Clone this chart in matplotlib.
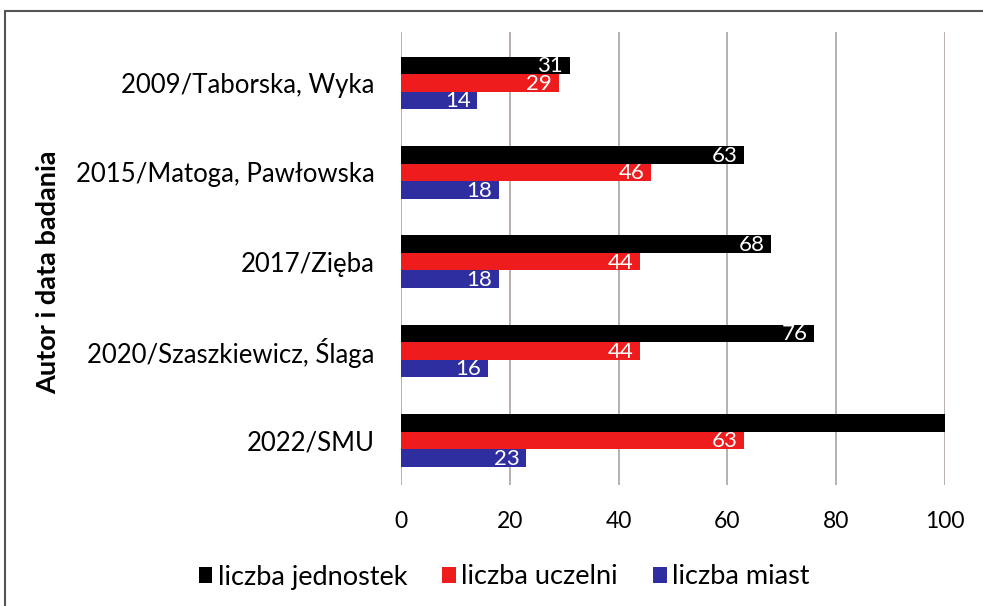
import matplotlib
matplotlib.use("Agg")
import matplotlib.pyplot as plt
from matplotlib.patches import Rectangle
import numpy as np

categories = ["2009/Taborska, Wyka", "2015/Matoga, Pawłowska", "2017/Zięba",
              "2020/Szaszkiewicz, Ślaga", "2022/SMU"]
jednostek = [31, 63, 68, 76, 100]
uczelni = [29, 46, 44, 44, 63]
miast = [14, 18, 18, 16, 23]
series_names = ["liczba jednostek", "liczba uczelni", "liczba miast"]
xticks = [0, 20, 40, 60, 80, 100]

plt.rcParams['font.family'] = ['Lato', 'DejaVu Sans']

W, H = 983, 606
fig = plt.figure(figsize=(W/100, H/100), dpi=100)
left, right, top, bottom = 401, 945, 32, 485
ax = fig.add_axes([left/W, 1-bottom/H, (right-left)/W, (bottom-top)/H])

colors = ["#000000", "#ee1c1c", "#2e2ea0"]
bh = 0.196
y = np.arange(len(categories))
data = [jednostek, uczelni, miast]
for i, (vals, c, name) in enumerate(zip(data, colors, series_names)):
    pos = y + (i - 1) * bh
    bars = ax.barh(pos, vals, height=bh, color=c, label=name, zorder=3)
    for b, v in zip(bars, vals):
        if v >= 100:
            continue
        ax.text(v - 1.2, b.get_y() + b.get_height()/2 + 0.01, str(v),
                ha='right', va='center', color='white', fontsize=16, zorder=4)

ax.set_xlim(0, 100)
ax.set_ylim(4.5, -0.57)
ax.set_xticks(xticks)
ax.set_yticks(y)
ax.set_yticklabels(categories, fontsize=18.5)
ax.tick_params(axis='x', labelsize=16.5, length=0, pad=19)
ax.tick_params(axis='y', length=0, pad=19)
for s in ax.spines.values():
    s.set_visible(False)
ax.grid(axis='x', color='#b3aaa8', linewidth=1.3, zorder=0)
ax.set_ylabel("Autor i data badania", fontsize=19.5, fontweight='bold')
ax.yaxis.set_label_coords(-0.627, 0.47)

leg = fig.legend(loc='center', bbox_to_anchor=(0.513, 1-577/H), ncol=3, frameon=False,
                 fontsize=19.5, handlelength=0.5, handleheight=0.5, handletextpad=0.2,
                 columnspacing=1.3)

fig.patches.append(Rectangle((5/W, -0.1), 1.2, 1 - 11/H + 0.1, transform=fig.transFigure,
                             fill=False, edgecolor='#555555', linewidth=1.5))

fig.savefig("out.png", dpi=100)
